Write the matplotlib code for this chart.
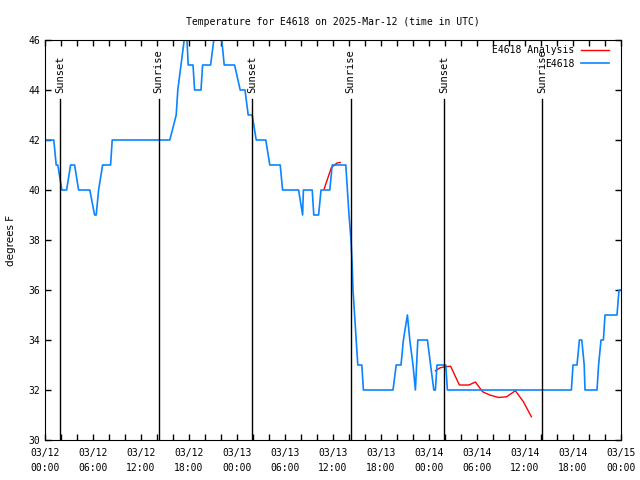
import datetime as dt
import matplotlib
matplotlib.use("Agg")
import matplotlib.pyplot as plt
import matplotlib.dates as mdates

# hours after 2025-03-12 00:00 UTC, temperature in F
obs_hours = [0.0, 1.1, 1.4, 1.6, 2.1, 2.7, 3.2, 3.7, 4.2, 5.6, 6.2, 6.4, 6.7, 7.2, 8.2, 8.4,
             15.6, 16.4, 16.6, 17.4, 17.6, 17.9, 18.5, 18.7, 19.5, 19.7, 20.7, 21.1, 21.4,
             21.9, 22.1, 22.4, 23.7, 24.4, 25.0, 25.4, 25.9, 26.4, 27.6, 28.1, 29.4, 29.7,
             31.7, 32.2, 32.3, 33.4, 33.6, 34.2, 34.5, 35.6, 35.9, 37.6, 37.8, 38.0, 38.25,
             38.4, 38.5, 38.7, 38.9, 39.1, 39.6, 39.8, 43.5, 43.9, 44.5, 44.8, 45.3, 45.6,
             46.0, 46.3, 46.6, 47.8, 48.2, 48.6, 48.8, 49.0, 50.1, 50.3, 65.8, 66.0, 66.5,
             66.8, 67.1, 67.4, 67.5, 69.0, 69.2, 69.5, 69.8, 70.0, 71.5, 71.75, 72.0]
obs_temp = [42, 42, 41, 41, 40, 40, 41, 41, 40, 40, 39, 39, 40, 41, 41, 42,
            42, 43, 44, 46, 47, 45, 45, 44, 44, 45, 45, 46, 47,
            47, 46, 45, 45, 44, 44, 43, 43, 42, 42, 41, 41, 40,
            40, 39, 40, 40, 39, 39, 40, 40, 41, 41, 40, 39, 38,
            37, 36, 35, 34, 33, 33, 32, 32, 33, 33, 34, 35, 34,
            33, 32, 34, 34, 33, 32, 32, 33, 33, 32, 32, 33, 33,
            34, 34, 33, 32, 32, 33, 34, 34, 35, 35, 36, 36]

ana1_hours = [34.9, 35.8, 36.5, 36.9]
ana1_temp = [40.05, 40.9, 41.08, 41.1]
ana2_hours = [48.8, 49.4, 50.0, 50.7, 51.8, 53.0, 53.8, 54.7, 55.6, 56.7, 57.7, 58.8, 59.8, 60.8]
ana2_temp = [32.77, 32.89, 32.93, 32.95, 32.2, 32.2, 32.32, 31.93, 31.8, 31.7, 31.73, 31.97, 31.53, 30.93]

sun_hours = [1.9, 14.2, 25.9, 38.2, 49.9, 62.1]
sun_names = ["Sunset", "Sunrise", "Sunset", "Sunrise", "Sunset", "Sunrise"]

base = dt.datetime(2025, 3, 12)
to_t = lambda hs: [base + dt.timedelta(hours=h) for h in hs]

mono = "DejaVu Sans Mono"
fig = plt.figure(figsize=(6.4, 4.8), dpi=100)
ax = fig.add_axes([45 / 640, 40 / 480, 576 / 640, 400 / 480])

ax.plot(to_t(ana1_hours), ana1_temp, color="#ff0000", lw=1, label="E4618 Analysis")
ax.plot(to_t(ana2_hours), ana2_temp, color="#ff0000", lw=1)
ax.plot(to_t(obs_hours), obs_temp, color="#0a84ff", lw=1.2, label="E4618")

for h, name in zip(sun_hours, sun_names):
    t = base + dt.timedelta(hours=h)
    ax.axvline(t, ymin=0, ymax=0.853, color="black", lw=1)
    ax.text(t, 0.868, name, transform=ax.get_xaxis_transform(), rotation=90,
            ha="center", va="bottom", fontsize=7.5, family=mono)

ax.set_xlim(base, base + dt.timedelta(hours=72))
ax.set_ylim(30, 46)
ax.set_yticks(range(30, 47, 2))
ax.xaxis.set_major_locator(mdates.HourLocator(byhour=[0, 6, 12, 18]))
ax.xaxis.set_minor_locator(mdates.HourLocator(byhour=range(0, 24, 2)))
ax.xaxis.set_major_formatter(mdates.DateFormatter("%m/%d\n%H:%M"))
ax.tick_params(which="both", direction="in", top=True, right=True, length=4, width=1,
               labelsize=7)
ax.tick_params(axis="x", pad=6)
for lab in ax.get_xticklabels() + ax.get_yticklabels():
    lab.set_family(mono)
for lab in ax.get_xticklabels():
    lab.set_linespacing(1.55)

ax.set_title("Temperature for E4618 on 2025-Mar-12 (time in UTC)", fontsize=7,
             family=mono, pad=11)
ax.set_ylabel("degrees F", fontsize=7.5, labelpad=9)

leg = ax.legend(loc="upper right", bbox_to_anchor=(0.993, 1.006), frameon=False,
                markerfirst=False, fontsize=7, handlelength=2.9, handletextpad=0.7,
                labelspacing=0.35, borderpad=0.3)
for t in leg.get_texts():
    t.set_family(mono)
for col in leg._legend_handle_box.get_children():
    col.align = "right"

fig.savefig("out.png", dpi=100)
